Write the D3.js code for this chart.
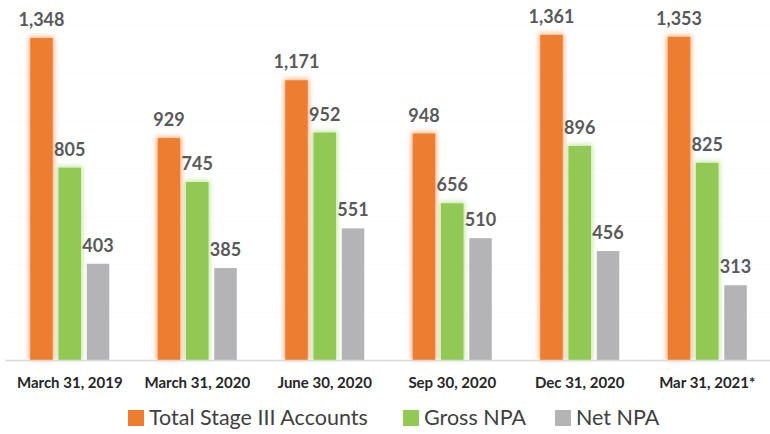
<!DOCTYPE html>
<html>
<head>
<meta charset="utf-8">
<script src="https://cdn.jsdelivr.net/npm/d3@7"></script>
<style>
  body { margin: 0; background: #fff; }
  svg { display: block; }
</style>
</head>
<body>
<div id="chart"></div>
<script>
// chart data
const categories = ['March 31, 2019', 'March 31, 2020', 'June 30, 2020', 'Sep 30, 2020', 'Dec 31, 2020', 'Mar 31, 2021*'];
const seriesNames = ['Total Stage III Accounts', 'Gross NPA', 'Net NPA'];
const totalStage3 = [1348, 929, 1171, 948, 1361, 1353];
const grossNPA = [805, 745, 952, 656, 896, 825];
const netNPA = [403, 385, 551, 510, 456, 313];
const colors = ['#ed7d31', '#92c955', '#b4b4b6'];
const glows = ['#f8a36a', '#b9e08e', null];

const width = 770, height = 434;
const margin = { top: 20, right: 0, bottom: 74, left: 6 };
const baseY = 360;

const svg = d3.select('#chart').append('svg')
  .attr('width', width)
  .attr('height', height);

// soft glow filter behind orange and green bars
const defs = svg.append('defs');
const filter = defs.append('filter')
  .attr('id', 'glow')
  .attr('x', '-50%').attr('y', '-50%')
  .attr('width', '200%').attr('height', '200%');
filter.append('feGaussianBlur').attr('stdDeviation', 2.5);

const x0 = d3.scaleBand()
  .domain(categories)
  .range([margin.left, 771])
  .paddingInner(0)
  .paddingOuter(0);

const x1 = d3.scaleBand()
  .domain(d3.range(3))
  .range([0, x0.bandwidth() * 0.62])
  .paddingInner(0.205)
  .paddingOuter(0);

const y = d3.scaleLinear()
  .domain([0, 1348])
  .range([baseY, 38]);

// very faint gridlines
svg.append('g')
  .selectAll('line')
  .data(d3.range(200, 1500, 200))
  .join('line')
  .attr('x1', margin.left)
  .attr('x2', width)
  .attr('y1', d => y(d))
  .attr('y2', d => y(d))
  .attr('stroke', '#fbfbfb')
  .attr('stroke-width', 1);

const data = categories.map((c, i) => ({
  cat: c,
  values: [totalStage3[i], grossNPA[i], netNPA[i]]
}));

const groups = svg.append('g')
  .selectAll('g')
  .data(data)
  .join('g')
  .attr('transform', d => `translate(${x0(d.cat) + x0.bandwidth() * 0.19},0)`);

// glow layer
groups.selectAll('rect.glow')
  .data(d => d.values.map((v, k) => ({ v, k })).filter(e => glows[e.k]))
  .join('rect')
  .attr('class', 'glow')
  .attr('x', e => x1(e.k) - 1.5)
  .attr('y', e => y(e.v) - 1.5)
  .attr('width', x1.bandwidth() + 3)
  .attr('height', e => baseY - y(e.v) + 1.5)
  .attr('fill', e => glows[e.k])
  .attr('opacity', 0.8)
  .attr('filter', 'url(#glow)');

groups.selectAll('rect.bar')
  .data(d => d.values.map((v, k) => ({ v, k })))
  .join('rect')
  .attr('class', 'bar')
  .attr('x', e => x1(e.k))
  .attr('y', e => y(e.v))
  .attr('width', x1.bandwidth())
  .attr('height', e => baseY - y(e.v))
  .attr('fill', e => colors[e.k]);

groups.selectAll('text.val')
  .data(d => d.values.map((v, k) => ({ v, k })))
  .join('text')
  .attr('class', 'val')
  .attr('x', e => x1(e.k) + x1.bandwidth() / 2)
  .attr('y', e => y(e.v) - 12)
  .attr('text-anchor', 'middle')
  .attr('font-family', 'Lato, "Open Sans", sans-serif')
  .attr('font-weight', 'bold')
  .attr('font-size', 18)
  .attr('fill', '#595959')
  .text(e => d3.format(',')(e.v));

// x axis
const xAxis = svg.append('g')
  .attr('transform', `translate(0,${baseY})`)
  .call(d3.axisBottom(x0).tickSize(0).tickPadding(17));
xAxis.select('.domain')
  .attr('stroke', '#d9d9d9')
  .attr('stroke-width', 1.5)
  .attr('d', `M5,0.5H${width}`);
xAxis.selectAll('.tick')
  .attr('transform', d => `translate(${x0(d) + x0.bandwidth() * 0.5},0)`);
xAxis.selectAll('.tick text')
  .attr('font-family', 'Lato, "Open Sans", sans-serif')
  .attr('font-weight', 'bold')
  .attr('font-size', 15)
  .attr('fill', '#262626');

// legend
const legendX = [128, 403, 555];
const legend = svg.append('g')
  .selectAll('g')
  .data(seriesNames)
  .join('g')
  .attr('transform', (d, i) => `translate(${legendX[i]},410)`);
legend.append('rect')
  .attr('width', 16)
  .attr('height', 16)
  .attr('fill', (d, i) => colors[i]);
legend.append('text')
  .attr('x', 21)
  .attr('y', 15)
  .attr('font-family', 'Lato, "Open Sans", sans-serif')
  .attr('font-size', 21.5)
  .attr('fill', '#404040')
  .text(d => d);
</script>
</body>
</html>
